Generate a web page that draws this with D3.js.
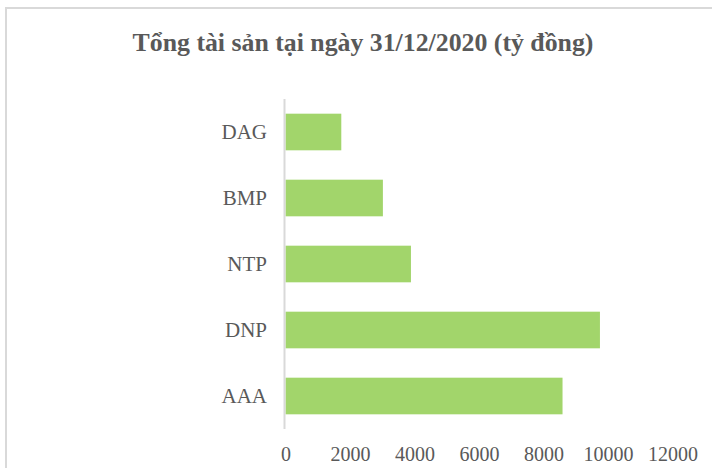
<!DOCTYPE html>
<html><head><meta charset="utf-8">
<script src="https://cdn.jsdelivr.net/npm/d3@7/dist/d3.min.js"></script>
<style>body{margin:0;background:#fff}svg{display:block}</style>
</head><body><svg id="c" width="712" height="468"></svg>
<script>
const categories = ["DAG","BMP","NTP","DNP","AAA"];
const values = [1730, 3020, 3890, 9750, 8590];
const tickValues = [0,2000,4000,6000,8000,10000,12000];
const title = "Tổng tài sản tại ngày 31/12/2020 (tỷ đồng)";

const svg = d3.select("#c");
const font = "'Liberation Serif','Times New Roman',serif";
svg.append("rect").attr("x",6).attr("y",8).attr("width",720).attr("height",480)
  .attr("fill","#fff").attr("stroke","#d9d9d9").attr("stroke-width",2);

svg.append("text").attr("x",363).attr("y",51).attr("text-anchor","middle")
  .attr("font-family",font).attr("font-weight","bold").attr("font-size",25.8)
  .attr("fill","#595959").text(title);

const x = d3.scaleLinear().domain([0,12000]).range([285.5,672.5]);
const y = d3.scaleBand().domain(categories).range([99,429]).paddingInner(0.445).paddingOuter(0.2225);

svg.selectAll("rect.bar").data(categories).enter().append("rect").attr("class","bar")
  .attr("x",x(0)).attr("y",d=>y(d)).attr("height",y.bandwidth())
  .attr("width",(d,i)=>x(values[i])-x(0)).attr("fill","#a2d56b");

svg.append("line").attr("x1",284.5).attr("x2",284.5).attr("y1",99).attr("y2",429)
  .attr("stroke","#d9d9d9").attr("stroke-width",2);

const yAxis = svg.append("g").attr("transform","translate(284,0)")
  .call(d3.axisLeft(y).tickSize(0).tickPadding(17));
yAxis.select(".domain").remove();
yAxis.selectAll("text").attr("font-family",font).attr("font-size",21).attr("fill","#595959");

const xAxis = svg.append("g").attr("transform","translate(0,447)")
  .call(d3.axisBottom(x).tickValues(tickValues).tickFormat(d3.format("d")).tickSize(0).tickPadding(0));
xAxis.select(".domain").remove();
xAxis.selectAll("text").attr("font-family",font).attr("font-size",20).attr("fill","#595959");
</script></body></html>
